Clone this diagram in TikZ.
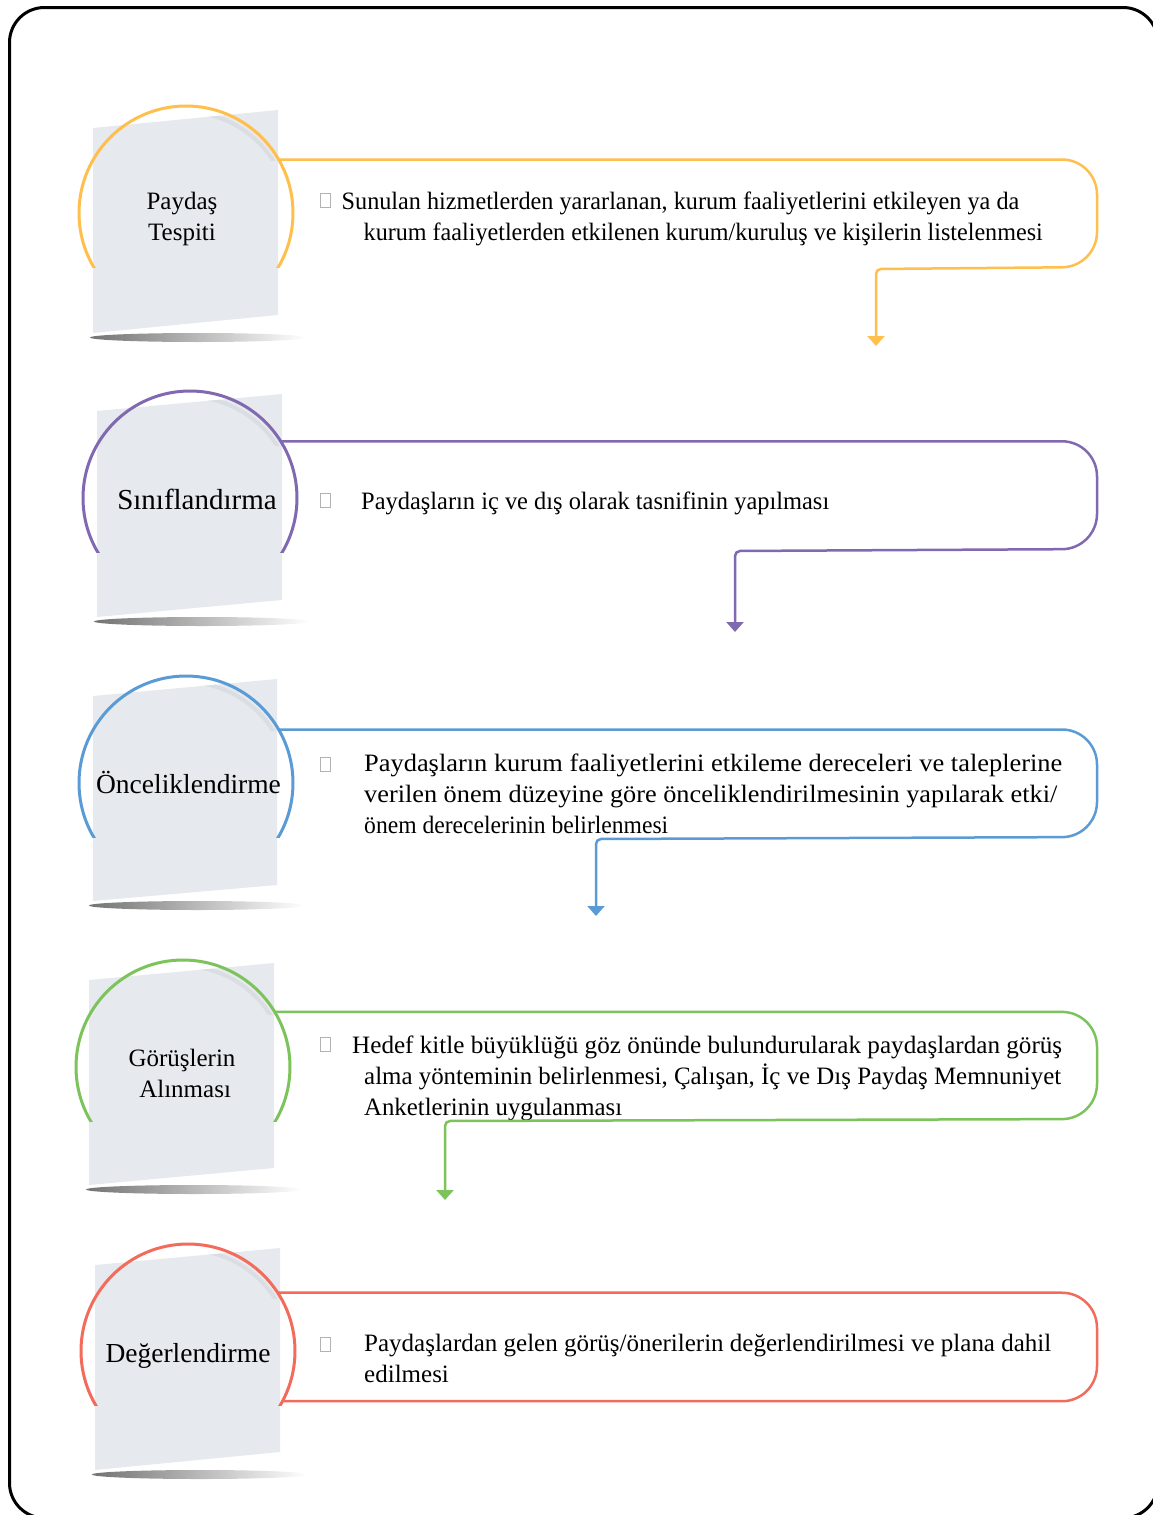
\documentclass[tikz,border=0pt]{standalone}
\usepackage{fontspec}
\setmainfont{Liberation Serif}
\usepackage{graphicx}
\usetikzlibrary{arrows.meta}
\definecolor{cOr}{HTML}{FFBF4D}
\definecolor{cPu}{HTML}{8069B0}
\definecolor{cBl}{HTML}{5B9BD5}
\definecolor{cGr}{HTML}{7DC35B}
\definecolor{cRd}{HTML}{F26B5B}
\definecolor{paper}{HTML}{E6E9EE}
\definecolor{curl}{HTML}{DADDE2}
\newcommand\fitline[2]{\resizebox{#1pt}{\height}{#2}}
\begin{document}
\begin{tikzpicture}[x=1pt,y=-1pt,
 ring/.style={circle, draw=#1, line width=3pt, minimum size=214pt, inner sep=0pt, outer sep=0pt},
 flow/.style={draw=#1, line width=2.5pt, rounded corners=35pt},
 tip/.style={-{Triangle[width=17pt,length=10pt]}},
 sheet/.style={fill=paper},
 curlband/.style={draw=curl, line width=4pt},
 shadowline/.style={left color=black!55, right color=white},
 lbl/.style={font=\fontsize{25}{31}\selectfont, align=center, inner sep=0pt},
 biglbl/.style={font=\fontsize{27.5}{33}\selectfont, inner sep=0pt, anchor=base},
 txt/.style={font=\fontsize{25}{31}\selectfont, inner sep=0pt, anchor=base west},
 bullet/.style={draw=black!30, fill=white, line width=0.8pt, minimum width=10pt, minimum height=14pt, inner sep=0pt},
]
\useasboundingbox (0,0) rectangle (1153,1515);
\clip (0,0) rectangle (1153,1515);
\draw[line width=3pt, rounded corners=35pt] (9.5,7.5) rectangle (1158,1518);

% ---- Row 1
\fill[sheet] (93,128) -- (278,110) -- (278,315) -- (93,333) -- cycle;
\begin{scope}
 \clip (93,128) -- (278,110) -- (278,315) -- (93,333) -- cycle;
 \clip (200,100) rectangle (290,160);
 \draw[curlband] (185,216) circle[radius=104];
\end{scope}
\begin{scope}
 \clip (0,0) rectangle (1153,267);
 \node[ring=cOr] (c1) at (186,213) {};
\end{scope}
\shade[shadowline] (198,337.5) ellipse [x radius=108, y radius=4.5];
\node[lbl] (l1) at (182,219) {Paydaş\\Tespiti};
\node[bullet] (b1) at (325.5,200.5) {};
\node[txt] (t1a) at (341.5,209) {\fitline{677.5}{Sunulan hizmetlerden yararlanan, kurum faaliyetlerini etkileyen ya da}};
\node[txt] (t1b) at (363.5,240) {\fitline{679}{kurum faaliyetlerden etkilenen kurum/kuruluş ve kişilerin listelenmesi}};
\coordinate (e1) at (876,346);
\draw[flow=cOr, tip] (c1.30) -- (1097,0 |- c1.30) -- (1097,267) [rounded corners=5pt] -- (876,269) -- (e1);

% ---- Row 2
\fill[sheet] (97,411) -- (282,394) -- (282,600) -- (97,617) -- cycle;
\begin{scope}
 \clip (97,411) -- (282,394) -- (282,600) -- (97,617) -- cycle;
 \clip (204,385) rectangle (294,445);
 \draw[curlband] (189,501) circle[radius=104];
\end{scope}
\begin{scope}
 \clip (0,0) rectangle (1153,552);
 \node[ring=cPu] (c2) at (190,498) {};
\end{scope}
\shade[shadowline] (202,621.5) ellipse [x radius=108, y radius=4.5];
\node[biglbl, font=\fontsize{29}{33}\selectfont] (l2) at (197,509.5) {Sınıflandırma};
\node[bullet] (b2) at (325.5,500.5) {};
\node[txt] (t2a) at (361,509) {\fitline{468}{Paydaşların iç ve dış olarak tasnifinin yapılması}};
\coordinate (e2) at (735,632);
\draw[flow=cPu, tip] (c2.32) -- (1097,0 |- c2.32) -- (1097,549) [rounded corners=5pt] -- (735,551) -- (e2);

% ---- Row 3
\fill[sheet] (93,696) -- (277,679) -- (277,885) -- (93,901) -- cycle;
\begin{scope}
 \clip (93,696) -- (277,679) -- (277,885) -- (93,901) -- cycle;
 \clip (200,670) rectangle (290,730);
 \draw[curlband] (185,786) circle[radius=104];
\end{scope}
\begin{scope}
 \clip (0,0) rectangle (1153,837);
 \node[ring=cBl] (c3) at (186,783) {};
\end{scope}
\shade[shadowline] (197,905.5) ellipse [x radius=108, y radius=4.5];
\node[biglbl] (l3) at (188.5,793) {Önceliklendirme};
\node[bullet] (b3) at (325.5,764.5) {};
\node[txt] (t3a) at (364,771) {\fitline{698}{Paydaşların kurum faaliyetlerini etkileme dereceleri ve taleplerine}};
\node[txt] (t3b) at (364,802) {\fitline{693}{verilen önem düzeyine göre önceliklendirilmesinin yapılarak etki/}};
\node[txt] (t3c) at (364,833) {\fitline{304}{önem derecelerinin belirlenmesi}};
\coordinate (e3) at (596,916);
\draw[flow=cBl, tip] (c3.30) -- (1097,0 |- c3.30) -- (1097,837) [rounded corners=5pt] -- (596,839) -- (e3);

% ---- Row 4
\fill[sheet] (89,980) -- (274,963) -- (274,1168) -- (89,1185) -- cycle;
\begin{scope}
 \clip (89,980) -- (274,963) -- (274,1168) -- (89,1185) -- cycle;
 \clip (197,954) rectangle (287,1014);
 \draw[curlband] (182,1070) circle[radius=104];
\end{scope}
\begin{scope}
 \clip (0,0) rectangle (1153,1121);
 \node[ring=cGr] (c4) at (183,1067) {};
\end{scope}
\shade[shadowline] (194,1189.5) ellipse [x radius=108, y radius=4.5];
\node[lbl] (l4) at (182,1073) {Görüşlerin\\ \ Alınması};
\node[bullet] (b4) at (325.5,1044.5) {};
\node[txt] (t4a) at (352,1053) {\fitline{710}{Hedef kitle büyüklüğü göz önünde bulundurularak paydaşlardan görüş}};
\node[txt] (t4b) at (364,1084) {\fitline{697}{alma yönteminin belirlenmesi, Çalışan, İç ve Dış Paydaş Memnuniyet}};
\node[txt] (t4c) at (364,1115) {\fitline{258}{Anketlerinin uygulanması}};
\coordinate (e4) at (445,1200);
\draw[flow=cGr, tip] (c4.31) -- (1097,0 |- c4.31) -- (1097,1119) [rounded corners=5pt] -- (445,1121) -- (e4);

% ---- Row 5
\fill[sheet] (95,1265) -- (280,1248) -- (280,1452) -- (95,1470) -- cycle;
\begin{scope}
 \clip (95,1265) -- (280,1248) -- (280,1452) -- (95,1470) -- cycle;
 \clip (202,1238) rectangle (292,1298);
 \draw[curlband] (187,1354) circle[radius=104];
\end{scope}
\begin{scope}
 \clip (0,0) rectangle (1153,1405);
 \node[ring=cRd] (c5) at (188,1351) {};
\end{scope}
\shade[shadowline] (200,1474.5) ellipse [x radius=108, y radius=4.5];
\node[biglbl] (l5) at (188,1362) {Değerlendirme};
\node[bullet] (b5) at (325.5,1344) {};
\node[txt] (t5a) at (364,1351) {\fitline{687}{Paydaşlardan gelen görüş/önerilerin değerlendirilmesi ve plana dahil}};
\node[txt] (t5b) at (364,1382) {edilmesi};
\draw[flow=cRd] (c5.33) -- (1097,0 |- c5.33) -- (1097,0 |- c5.-28.5) -- (c5.-28.5);
\end{tikzpicture}
\end{document}
